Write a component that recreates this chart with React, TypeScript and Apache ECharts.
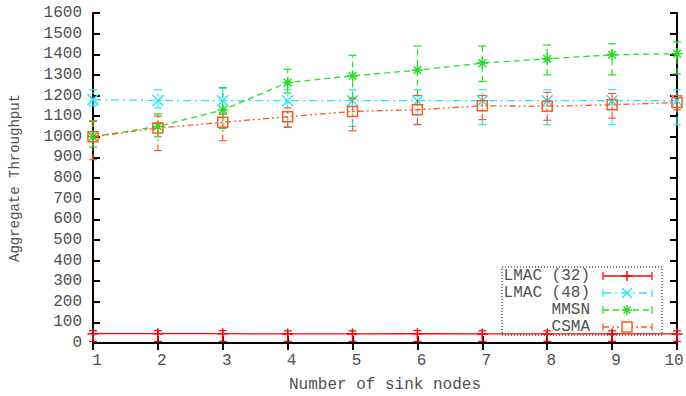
import React, { useEffect, useRef } from "react";
import * as echarts from "echarts";

const xs = [1, 2, 3, 4, 5, 6, 7, 8, 9, 10];

const lmac32 = [45, 45, 45, 44, 44, 45, 44, 44, 44, 44];
const lmac32Low = [8, 8, 8, 8, 8, 8, 8, 8, 8, 8];
const lmac32High = [60, 60, 60, 59, 59, 60, 59, 59, 59, 59];

const lmac48 = [1180, 1176, 1175, 1175, 1175, 1175, 1175, 1175, 1175, 1175];
const lmac48Low = [1150, 1140, 1110, 1050, 1050, 1058, 1058, 1058, 1058, 1058];
const lmac48High = [1228, 1228, 1235, 1228, 1228, 1228, 1228, 1228, 1228, 1228];

const mmsn = [1000, 1050, 1130, 1263, 1295, 1323, 1357, 1378, 1397, 1403];
const mmsnLow = [950, 1000, 1040, 1212, 1190, 1200, 1268, 1300, 1300, 1305];
const mmsnHigh = [1078, 1111, 1239, 1327, 1395, 1440, 1440, 1445, 1451, 1460];

const csma = [1000, 1042, 1070, 1097, 1123, 1131, 1150, 1148, 1155, 1166];
const csmaLow = [889, 933, 981, 1045, 1029, 1060, 1083, 1080, 1090, 1130];
const csmaHigh = [1074, 1100, 1110, 1140, 1183, 1200, 1200, 1215, 1210, 1200];

const names = ["LMAC (32)", "LMAC (48)", "MMSN", "CSMA"];
const colors = ["#ff0000", "#22e8ff", "#22e022", "#ff5a1e"];
const dashes: (number[] | null)[] = [null, [8, 4, 2, 4], [6, 4], [6, 3, 2, 3, 2, 3]];
const symbols = [
  "path://M5,0L5,10M0,5L10,5",
  "path://M0,0L10,10M10,0L0,10",
  "path://M5,0L5,10M0,5L10,5M1.5,1.5L8.5,8.5M8.5,1.5L1.5,8.5",
  "rect",
];

const FONT = "'Liberation Mono', 'DejaVu Sans Mono', monospace";
const TXT = "#505050";

export default function App() {
  const ref = useRef<HTMLDivElement>(null);
  useEffect(() => {
    if (!ref.current) return;
    const chart = echarts.init(ref.current, null, { renderer: "svg" });
    const means = [lmac32, lmac48, mmsn, csma];
    const lows = [lmac32Low, lmac48Low, mmsnLow, csmaLow];
    const highs = [lmac32High, lmac48High, mmsnHigh, csmaHigh];

    const series: any[] = [];
    means.forEach((m, i) => {
      const errData = xs.map((x, k) => [x, lows[i][k], highs[i][k]]);
      series.push({
        type: "custom",
        name: names[i] + " err",
        silent: true,
        z: 2 + i,
        data: errData,
        renderItem: (params: any, api: any) => {
          const x = api.value(0);
          const lo = api.coord([x, api.value(1)]);
          const hi = api.coord([x, api.value(2)]);
          const st: any = { stroke: colors[i], lineWidth: 1.2 };
          if (dashes[i]) st.lineDash = dashes[i];
          const cap = 4;
          return {
            type: "group",
            children: [
              { type: "line", shape: { x1: lo[0], y1: lo[1], x2: hi[0], y2: hi[1] }, style: st },
              { type: "line", shape: { x1: lo[0] - cap, y1: lo[1], x2: lo[0] + cap, y2: lo[1] }, style: { stroke: colors[i], lineWidth: 1.2 } },
              { type: "line", shape: { x1: hi[0] - cap, y1: hi[1], x2: hi[0] + cap, y2: hi[1] }, style: { stroke: colors[i], lineWidth: 1.2 } },
            ],
          };
        },
      });
      series.push({
        type: "line",
        name: names[i],
        z: 3 + i,
        data: xs.map((x, k) => [x, m[k]]),
        symbol: symbols[i],
        symbolSize: symbols[i] === "rect" ? 10 : 11,
        showAllSymbol: true,
        lineStyle: { color: colors[i], width: 1.3, type: dashes[i] ? dashes[i] : "solid" },
        itemStyle: { color: "rgba(0,0,0,0)", borderColor: colors[i], borderWidth: 1.5 },
        emphasis: { disabled: true },
      });
    });

    const legX0 = 502, legY0 = 267, legW = 160, legH = 68;
    const rowYs = [276, 293, 310, 327];
    const legChildren: any[] = [
      { type: "rect", shape: { x: legX0, y: legY0, width: legW, height: legH }, style: { fill: "#fff", stroke: "#000", lineWidth: 1, lineDash: [1, 2] } },
    ];
    names.forEach((n, i) => {
      const y = rowYs[i];
      const st: any = { stroke: colors[i], lineWidth: 1.3 };
      if (dashes[i]) st.lineDash = dashes[i];
      legChildren.push({ type: "text", x: 590, y, style: { text: n, font: `16px ${FONT}`, fill: TXT, align: "right", verticalAlign: "middle" } });
      legChildren.push({ type: "line", shape: { x1: 603, y1: y, x2: 652, y2: y }, style: st });
      legChildren.push({ type: "line", shape: { x1: 603, y1: y - 4, x2: 603, y2: y + 4 }, style: { stroke: colors[i], lineWidth: 1.2 } });
      legChildren.push({ type: "line", shape: { x1: 652, y1: y - 4, x2: 652, y2: y + 4 }, style: { stroke: colors[i], lineWidth: 1.2 } });
      const cx = 627;
      const ms = { stroke: colors[i], lineWidth: 1.5, fill: "none" };
      if (i === 0 || i === 2) {
        legChildren.push({ type: "line", shape: { x1: cx, y1: y - 5, x2: cx, y2: y + 5 }, style: ms });
        legChildren.push({ type: "line", shape: { x1: cx - 5, y1: y, x2: cx + 5, y2: y }, style: ms });
      }
      if (i === 1 || i === 2) {
        const d = i === 1 ? 5 : 3.5;
        legChildren.push({ type: "line", shape: { x1: cx - d, y1: y - d, x2: cx + d, y2: y + d }, style: ms });
        legChildren.push({ type: "line", shape: { x1: cx + d, y1: y - d, x2: cx - d, y2: y + d }, style: ms });
      }
      if (i === 3) {
        legChildren.push({ type: "rect", shape: { x: cx - 5, y: y - 5, width: 10, height: 10 }, style: { stroke: colors[i], lineWidth: 1.5, fill: "#fff" } });
      }
    });

    const axisLine = { show: true, lineStyle: { color: "#000", width: 2 } };
    const axisTick = { show: true, inside: true, length: 7, lineStyle: { color: "#000", width: 2 } };
    const labelText = { color: TXT, fontFamily: FONT, fontSize: 16 };

    chart.setOption({
      animation: false,
      grid: { left: 93, right: 9, top: 13, bottom: 53, containLabel: false, outerBoundsMode: "none" },
      xAxis: [
        {
          type: "value", min: 1, max: 10, interval: 1, position: "bottom",
          axisLine, axisTick, splitLine: { show: false },
          axisLabel: {
            ...labelText, margin: 10,
            formatter: (v: number) => (v === 10 ? `{e|${v}}` : `{n|${v}}`),
            rich: {
              n: { ...labelText, padding: [0, 0, 0, 8] },
              e: { ...labelText, padding: [0, 6, 0, 0] },
            },
          },
          name: "Number of sink nodes", nameLocation: "middle", nameGap: 34,
          nameTextStyle: { color: TXT, fontFamily: FONT, fontSize: 16 },
        },
        {
          type: "value", min: 1, max: 10, interval: 1, position: "top",
          axisLine, axisTick, splitLine: { show: false }, axisLabel: { show: false },
        },
      ],
      yAxis: [
        {
          type: "value", min: 0, max: 1600, interval: 100, position: "left",
          axisLine, axisTick, splitLine: { show: false },
          axisLabel: { ...labelText, margin: 11, formatter: (v: number) => String(v) },
          name: "Aggregate Throughput", nameLocation: "middle", nameGap: 71, nameRotate: 90,
          nameTextStyle: { color: TXT, fontFamily: FONT, fontSize: 14 },
        },
        {
          type: "value", min: 0, max: 1600, interval: 100, position: "right",
          axisLine, axisTick, splitLine: { show: false }, axisLabel: { show: false },
        },
      ],
      series,
      graphic: [{ type: "group", z: 100, children: legChildren }],
    });
    return () => chart.dispose();
  }, []);
  return <div ref={ref} style={{ width: 686, height: 396, position: "absolute", left: 0, top: 0 }} />;
}
